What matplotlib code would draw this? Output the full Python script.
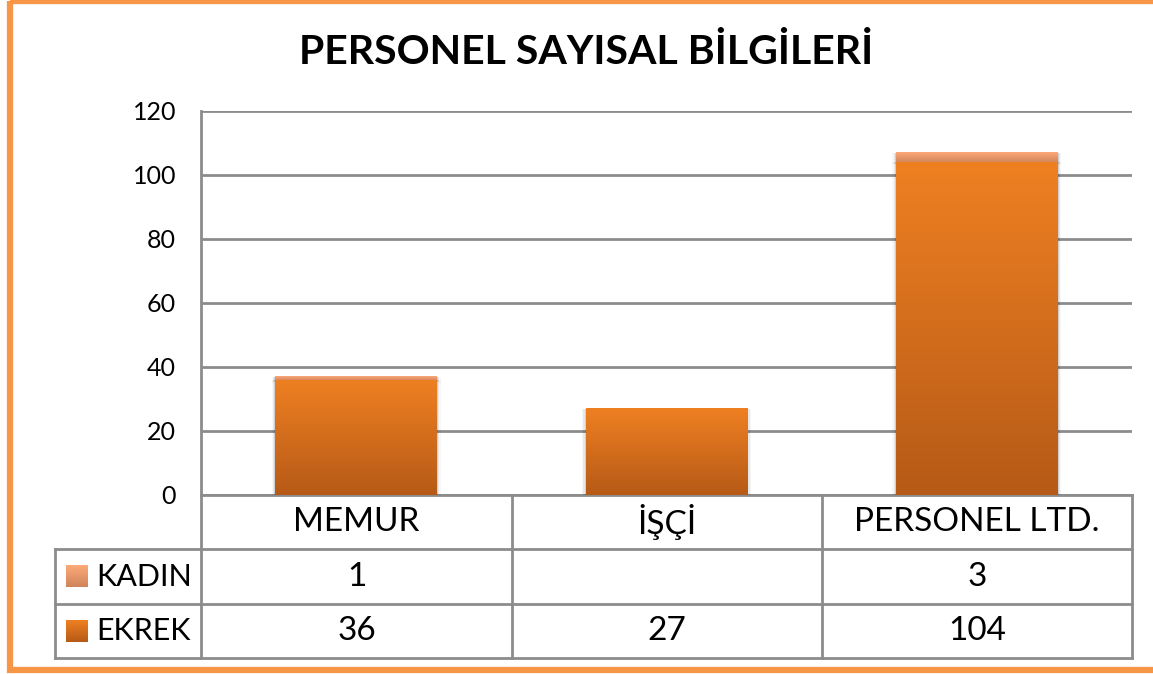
import matplotlib.pyplot as plt
import matplotlib.colors as mcolors
import numpy as np
from matplotlib.patches import Rectangle

plt.rcParams['font.family'] = ['Lato', 'DejaVu Sans']

categories = ['MEMUR', 'İŞÇİ', 'PERSONEL LTD.']
erkek = [36, 27, 104]
kadin = [1, 0, 3]
series_names = ['KADIN', 'EKREK']
yticks = [0, 20, 40, 60, 80, 100, 120]

W, H = 1153, 674
fig = plt.figure(figsize=(W / 100, H / 100), dpi=100)

# pixel helper axes spanning the whole figure (for frame + data table)
pix = fig.add_axes([0, 0, 1, 1])
pix.set_xlim(0, W)
pix.set_ylim(H, 0)
pix.axis('off')

orange_border = '#F79646'
pix.add_patch(Rectangle((9.5, 1), W + 10, H - 5, fill=False,
                        edgecolor=orange_border, lw=4.5, zorder=1))

# main plot area
left, right, top, bottom = 201, 1132, 111, 495
ax = fig.add_axes([left / W, 1 - bottom / H, (right - left) / W, (bottom - top) / H])
ax.set_facecolor('none')
x = np.arange(len(categories))
grid_col = '#8c8c8c'

bars_e = ax.bar(x, erkek, width=0.52, color='none', zorder=3)
bars_k = ax.bar(x, kadin, bottom=erkek, width=0.52, color='none', zorder=3)


def grad_fill(bar, c_top, c_bot):
    bx, by = bar.get_x(), bar.get_y()
    bw, bh = bar.get_width(), bar.get_height()
    if bh <= 0:
        return
    cmap = mcolors.LinearSegmentedColormap.from_list('g', [c_bot, c_top])
    g = np.linspace(0, 1, 256).reshape(-1, 1)
    ax.imshow(g, cmap=cmap, origin='lower', aspect='auto',
              extent=(bx, bx + bw, by, by + bh), zorder=3, interpolation='bicubic')
    # soft shadow
    for k, a in enumerate([0.10, 0.06, 0.03]):
        d = 0.004 * (k + 1)
        ax.add_patch(Rectangle((bx - d, by - 0.3 * (k + 1)), bw + 2 * d, bh + 0.3 * (k + 1),
                               facecolor='black', alpha=a, lw=0, zorder=2.5))


for b in bars_e:
    grad_fill(b, '#EF8022', '#B65A17')
for b in bars_k:
    grad_fill(b, '#FDA978', '#D4875B')

ax.set_xlim(-0.5, len(categories) - 0.5)
ax.set_ylim(0, 120)
ax.set_yticks(yticks)
ax.set_xticks([])
ax.yaxis.grid(True, color=grid_col, lw=2, zorder=0)
ax.set_axisbelow(True)
for s in ['top', 'right', 'bottom']:
    ax.spines[s].set_visible(False)
ax.spines['left'].set_color(grid_col)
ax.spines['left'].set_linewidth(2)
ax.tick_params(axis='y', length=0, pad=18, labelsize=18)

fig.text(586 / W, 1 - 52 / H, 'PERSONEL SAYISAL BİLGİLERİ', ha='center', va='center',
         fontsize=29.5, fontweight='bold')

# data table under the axis
col_edges = [201, 512, 822, 1132]
row_edges = [495, 549, 604, 658]
lab_left = 55
lw = 2
pix.plot([col_edges[0], col_edges[-1]], [row_edges[0], row_edges[0]], color=grid_col, lw=lw)
for r in row_edges[1:]:
    pix.plot([lab_left, col_edges[-1]], [r, r], color=grid_col, lw=lw)
for c in col_edges:
    pix.plot([c, c], [row_edges[0], row_edges[-1]], color=grid_col, lw=lw)
pix.plot([lab_left, lab_left], [row_edges[1], row_edges[-1]], color=grid_col, lw=lw)

cell_fs = 24
for i, cat in enumerate(categories):
    cx = (col_edges[i] + col_edges[i + 1]) / 2
    pix.text(cx, (row_edges[0] + row_edges[1]) / 2, cat, ha='center', va='center', fontsize=cell_fs)
    pix.text(cx, (row_edges[1] + row_edges[2]) / 2, str(kadin[i]) if kadin[i] else '',
             ha='center', va='center', fontsize=cell_fs)
    pix.text(cx, (row_edges[2] + row_edges[3]) / 2, str(erkek[i]),
             ha='center', va='center', fontsize=cell_fs)

key_cols = [('#FDA978', '#CF855A'), ('#EF8022', '#B65A17')]
for j, name in enumerate(series_names):
    cy = (row_edges[j + 1] + row_edges[j + 2]) / 2
    cmap = mcolors.LinearSegmentedColormap.from_list('k', [key_cols[j][0], key_cols[j][1]])
    pix.imshow(np.linspace(0, 1, 64).reshape(-1, 1), cmap=cmap, aspect='auto',
               extent=(66, 88, cy + 11, cy - 11), zorder=3)
    pix.text(96, cy, name, ha='left', va='center', fontsize=22)

pix.set_xlim(0, W)
pix.set_ylim(H, 0)

fig.savefig('out.png', dpi=100)
